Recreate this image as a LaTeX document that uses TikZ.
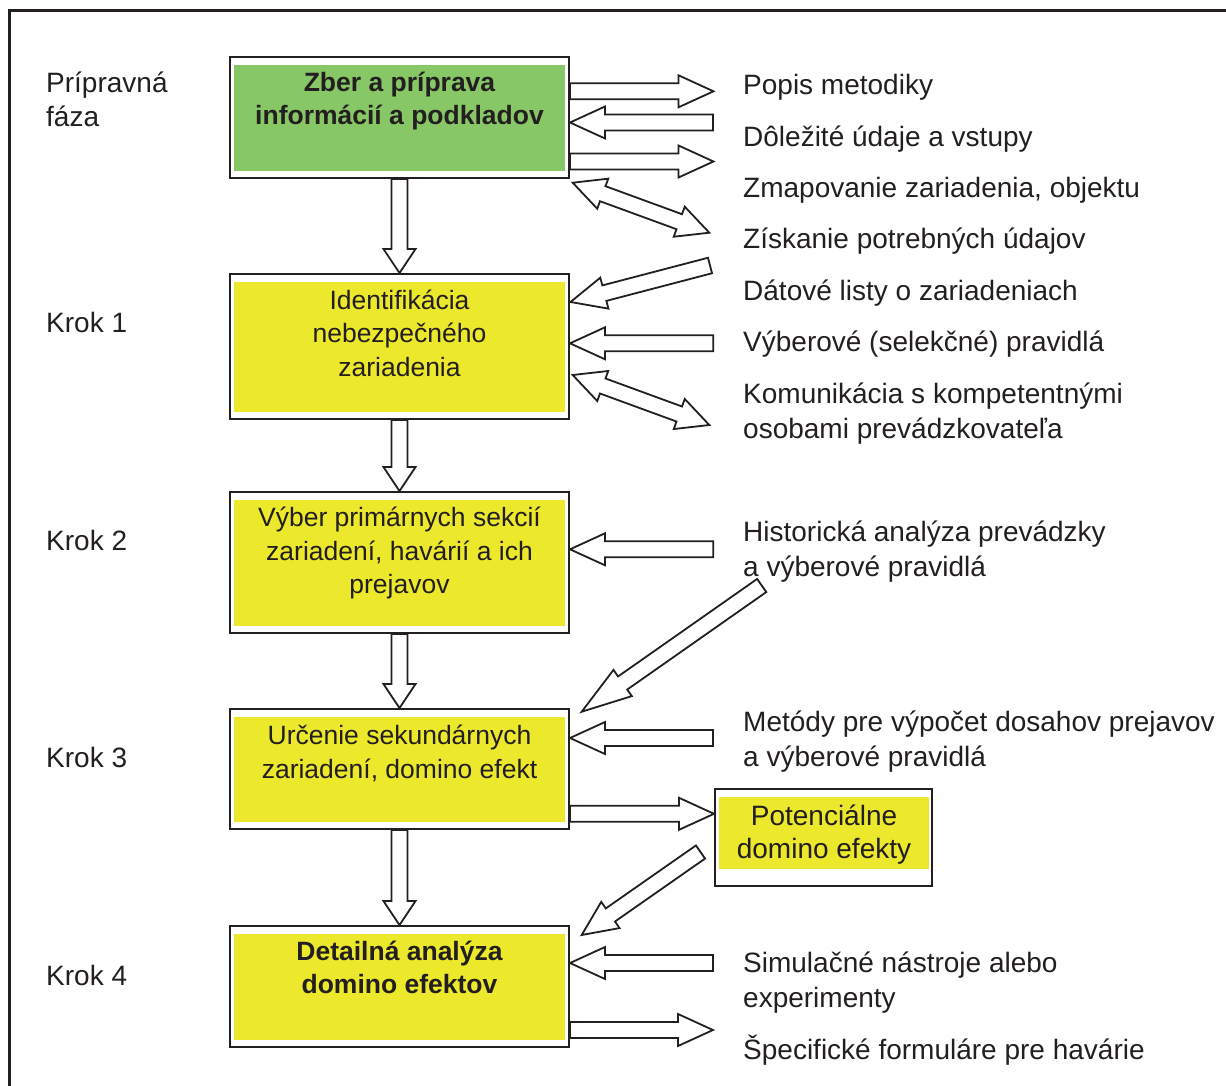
\documentclass[tikz,border=0pt]{standalone}
\usepackage{fontspec}
\setmainfont{Liberation Sans}
\usetikzlibrary{calc}
\definecolor{ink}{HTML}{231F20}
\definecolor{leafgreen}{HTML}{88C765}
\definecolor{lemon}{HTML}{ECE82C}

% multi-line texts are placed by the baseline of their last line
\tikzset{
  arrowline/.style={draw=ink, fill=white, line width=1.8pt, line join=miter},
  box/.style={draw=ink, line width=2pt, fill=white, inner sep=0pt},
  lbl/.style={anchor=base west, inner sep=0pt, text=ink, align=left,
    font=\fontsize{28}{35}\selectfont},
  phase/.style={anchor=base west, inner sep=0pt, text=ink, align=left,
    font=\fontsize{28}{34}\selectfont},
  boxtxt/.style={anchor=base, inner sep=0pt, text=ink, align=center,
    font=\fontsize{26.5}{33.3}\selectfont},
  boldtxt/.style={boxtxt, font=\fontsize{26.5}{32.5}\selectfont\bfseries},
}

% hollow block arrow: [head length]{tail}{tip}
\newcommand\blockarrow[3][35pt]{%
  \coordinate (bahead) at ($(#3)!#1!(#2)$);
  \draw[arrowline] ($(#2)!8pt!90:(#3)$) -- ($(bahead)!8pt!90:(#3)$)
    -- ($(bahead)!16pt!90:(#3)$) -- (#3) -- ($(bahead)!16pt!-90:(#3)$)
    -- ($(bahead)!8pt!-90:(#3)$) -- ($(#2)!8pt!-90:(#3)$) -- cycle;}

% hollow block arrow with a head at both ends
\newcommand\dblarrow[2]{%
  \coordinate (dbheadA) at ($(#1)!32pt!(#2)$);
  \coordinate (dbheadB) at ($(#2)!32pt!(#1)$);
  \draw[arrowline] (#1) -- ($(dbheadA)!16pt!90:(#2)$) -- ($(dbheadA)!8pt!90:(#2)$)
    -- ($(dbheadB)!8pt!90:(#2)$) -- ($(dbheadB)!16pt!90:(#2)$) -- (#2)
    -- ($(dbheadB)!16pt!-90:(#2)$) -- ($(dbheadB)!8pt!-90:(#2)$)
    -- ($(dbheadA)!8pt!-90:(#2)$) -- ($(dbheadA)!16pt!-90:(#2)$) -- cycle;}

\begin{document}
\begin{tikzpicture}[x=1pt, y=-1pt]
\useasboundingbox (0,0) rectangle (1226,1085);

% outer frame (runs past the page on the right and at the bottom)
\draw[ink, line width=3pt] (9.5,1120) -- (9.5,10.5) -- (1250,10.5);

% process boxes
\node[box, minimum width=339pt, minimum height=121pt] (b0) at (399.5,117.5) {};
\node[box, minimum width=339pt, minimum height=145pt] (b1) at (399.5,346.5) {};
\node[box, minimum width=339pt, minimum height=141pt] (b2) at (399.5,562.5) {};
\node[box, minimum width=339pt, minimum height=120pt] (b3) at (399.5,769) {};
\node[box, minimum width=339pt, minimum height=121pt] (b4) at (399.5,986.5) {};
\node[box, minimum width=217pt, minimum height=97pt] (pot) at (823.5,837.5) {};

\fill[leafgreen] ($(b0.north west)+(5,9)$) rectangle ($(b0.south east)+(-5,-8)$);
\foreach \b in {b1,b2,b3,b4}
  \fill[lemon] ($(\b.north west)+(5,9)$) rectangle ($(\b.south east)+(-5,-8)$);
\fill[lemon] ($(pot.north west)+(5,9)$) rectangle ($(pot.south east)+(-4,-18)$);

% box texts
\node[boldtxt] (t0) at (399.5,124) {Zber a príprava\\informácií a podkladov};
\node[boxtxt] (t1) at (399.5,376) {Identifikácia\\nebezpečného\\zariadenia};
\node[boxtxt] (t2) at (399.5,593.5) {Výber primárnych sekcií\\zariadení, havárií a ich\\prejavov};
\node[boxtxt] (t3) at (399.5,778) {Určenie sekundárnych\\zariadení, domino efekt};
\node[boldtxt] (t4) at (399.5,993) {Detailná analýza\\domino efektov};
\node[boxtxt, font=\fontsize{28}{33}\selectfont] (tp) at (824,858) {Potenciálne\\domino efekty};

% phase labels
\node[phase] (ph0) at (46,126) {Prípravná\\fáza};
\node[phase] (ph1) at (46,332) {Krok 1};
\node[phase] (ph2) at (46,550) {Krok 2};
\node[phase] (ph3) at (46,767) {Krok 3};
\node[phase] (ph4) at (46,985) {Krok 4};

% inputs and outputs
\node[lbl] (r1) at (743,94) {Popis metodiky};
\node[lbl] (r2) at (743,146) {Dôležité údaje a vstupy};
\node[lbl] (r3) at (743,197) {Zmapovanie zariadenia, objektu};
\node[lbl] (r4) at (743,248) {Získanie potrebných údajov};
\node[lbl] (r5) at (743,300) {Dátové listy o zariadeniach};
\node[lbl] (r6) at (743,351) {Výberové (selekčné) pravidlá};
\node[lbl] (r7) at (743,438) {Komunikácia s kompetentnými\\osobami prevádzkovateľa};
\node[lbl] (r8) at (743,576.5) {Historická analýza prevádzky\\a výberové pravidlá};
\node[lbl] (r9) at (743,766) {Metódy pre výpočet dosahov prejavov\\a výberové pravidlá};
\node[lbl] (r10) at (743,1007.5) {Simulačné nástroje alebo\\experimenty};
\node[lbl] (r11) at (743,1059) {Špecifické formuláre pre havárie};

% flow between the steps
\blockarrow[24pt]{b0.south}{b1.north}
\blockarrow[24pt]{b1.south}{b2.north}
\blockarrow[24pt]{b2.south}{b3.north}
\blockarrow[24pt]{b3.south}{b4.north}

% arrows at the preparation box
\coordinate (q1) at (713.5,91.3);
\coordinate (p1) at (b0.east |- q1);
\blockarrow{p1}{q1}
\coordinate (q2) at (713,122.5);
\coordinate (p2) at (b0.east |- q2);
\blockarrow{q2}{p2}
\coordinate (q3) at (713.5,161.5);
\coordinate (p3) at (b0.east |- q3);
\blockarrow{p3}{q3}
\coordinate (d1a) at (572.7,182.7);
\coordinate (d1b) at (709.3,232.7);
\dblarrow{d1a}{d1b}

% arrows at step 1
\coordinate (s1) at (710,265.5);
\coordinate (e1) at (570.5,302);
\blockarrow{s1}{e1}
\coordinate (s2) at (713.3,343.3);
\coordinate (e2) at (b1.east |- s2);
\blockarrow{s2}{e2}
\coordinate (d2a) at (572.7,375);
\coordinate (d2b) at (709.3,425);
\dblarrow{d2a}{d2b}

% arrows at step 2
\coordinate (s3) at (713.3,549.3);
\coordinate (e3) at (b2.east |- s3);
\blockarrow{s3}{e3}
\coordinate (s4) at (761.7,585.5);
\coordinate (e4) at (581.7,711.7);
\blockarrow[50pt]{s4}{e4}

% arrows at step 3
\coordinate (s5) at (713,738);
\coordinate (e5) at (b3.east |- s5);
\blockarrow{s5}{e5}
\coordinate (e6) at (714,813.8);
\coordinate (s6) at (b3.east |- e6);
\blockarrow{s6}{e6}
\coordinate (s7) at (700.5,852);
\coordinate (e7) at (581.7,935);
\blockarrow{s7}{e7}

% arrows at step 4
\coordinate (s8) at (713,963);
\coordinate (e8) at (b4.east |- s8);
\blockarrow{s8}{e8}
\coordinate (e9) at (713,1030);
\coordinate (s9) at (b4.east |- e9);
\blockarrow{s9}{e9}
\end{tikzpicture}
\end{document}
